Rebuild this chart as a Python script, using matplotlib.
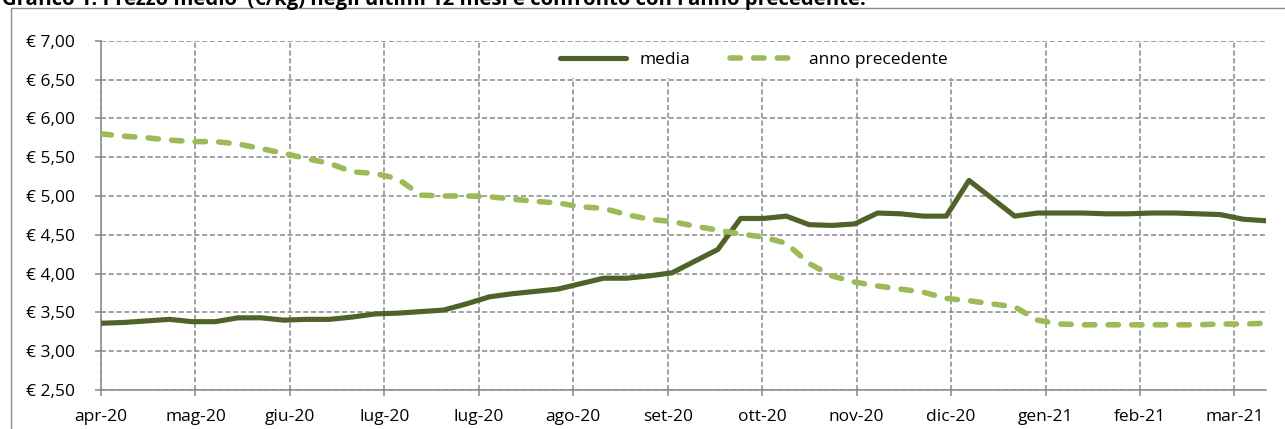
import matplotlib

matplotlib.use("Agg")
import matplotlib.pyplot as plt
from matplotlib.patches import Rectangle
import numpy as np

# weekly average price (EUR/kg), apr-20 .. mar-21
media = [3.36, 3.37, 3.39, 3.41, 3.38, 3.38, 3.43, 3.43, 3.40, 3.41,
         3.41, 3.44, 3.48, 3.49, 3.51, 3.53, 3.61, 3.70, 3.74, 3.77,
         3.80, 3.87, 3.94, 3.94, 3.97, 4.01, 4.16, 4.31, 4.71, 4.71,
         4.74, 4.63, 4.62, 4.64, 4.78, 4.77, 4.74, 4.74, 5.20, 4.97,
         4.74, 4.78, 4.78, 4.78, 4.77, 4.77, 4.78, 4.78, 4.77, 4.76,
         4.70, 4.68]
anno_precedente = [5.80, 5.77, 5.75, 5.72, 5.70, 5.70, 5.67, 5.61, 5.55, 5.48,
                   5.42, 5.31, 5.29, 5.22, 5.01, 5.00, 5.00, 4.99, 4.96, 4.93,
                   4.91, 4.86, 4.84, 4.76, 4.70, 4.67, 4.61, 4.56, 4.51, 4.47,
                   4.39, 4.13, 3.97, 3.89, 3.84, 3.80, 3.76, 3.68, 3.65, 3.61,
                   3.57, 3.40, 3.35, 3.34, 3.34, 3.34, 3.34, 3.34, 3.34, 3.35,
                   3.35, 3.36]
tick_labels = ["apr-20", "mag-20", "giu-20", "lug-20", "lug-20", "ago-20", "set-20",
               "ott-20", "nov-20", "dic-20", "gen-21", "feb-21", "mar-21"]
title = "Grafico 1: Prezzo medio  (€/kg) negli ultimi 12 mesi e confronto con l'anno precedente."

plt.rcParams["font.family"] = ["Open Sans", "DejaVu Sans"]
plt.rcParams["lines.scale_dashes"] = False

W, H = 1285, 429
fig = plt.figure(figsize=(W / 100, H / 100), dpi=100)
ax = fig.add_axes([101 / W, 1 - 390 / H, 1165 / W, 349.3 / H])

x = np.arange(len(media))
ax.plot(x, media, color="#4F6228", lw=3.7, solid_capstyle="round",
        solid_joinstyle="round", label="media", zorder=3)
ax.plot(x, anno_precedente, color="#9BBB59", lw=4.0, linestyle=(0, (7.5, 9.5)),
        dash_capstyle="round", dash_joinstyle="round", label="anno precedente", zorder=3)

ax.set_xlim(0, len(media) - 1)
ax.set_ylim(2.5, 7.0)
tick_step = 94.45 / 1165 * (len(media) - 1)
ax.set_xticks(np.arange(len(tick_labels)) * tick_step)
ax.set_xticklabels(tick_labels)
yt = np.arange(2.5, 7.01, 0.5)
ax.set_yticks(yt)
ax.set_yticklabels([f"€ {v:.2f}".replace(".", ",") for v in yt])

grey = "#878787"
ax.set_axisbelow(True)
ax.grid(True, color=grey, lw=1.1, linestyle=(0, (3.6, 2.0)))
for s in ("top", "right"):
    ax.spines[s].set_visible(False)
for s in ("left", "bottom"):
    ax.spines[s].set_color(grey)
    ax.spines[s].set_linewidth(1.1)
ax.tick_params(axis="both", colors=grey, labelcolor="black", labelsize=12.5,
               length=4.5, width=1.1)
ax.tick_params(axis="y", pad=14)
ax.tick_params(axis="x", pad=9)

# white background behind legend
ax.add_patch(Rectangle(((520 - 101) / 1165, (390 - 78) / 349.3), 468 / 1165, 36 / 349.3,
                       transform=ax.transAxes, facecolor="white", edgecolor="none", zorder=1))
ax.legend(loc="center", bbox_to_anchor=((754 - 101) / 1165, (390 - 60) / 349.3), ncol=2,
          frameon=False, fontsize=12.5, handlelength=3.8, handletextpad=0.75,
          columnspacing=2.3)

# outer chart frame
fig.patches.append(Rectangle((11 / W, -0.1), 2, 1.1 - 8.5 / H, transform=fig.transFigure,
                             fill=False, edgecolor="#8c8c8c", lw=1.0))
fig.text(2 / W, 1 - 4.5 / H, title, ha="left", va="baseline", fontsize=14.6,
         fontweight="bold")

fig.savefig("out.png", dpi=100)
